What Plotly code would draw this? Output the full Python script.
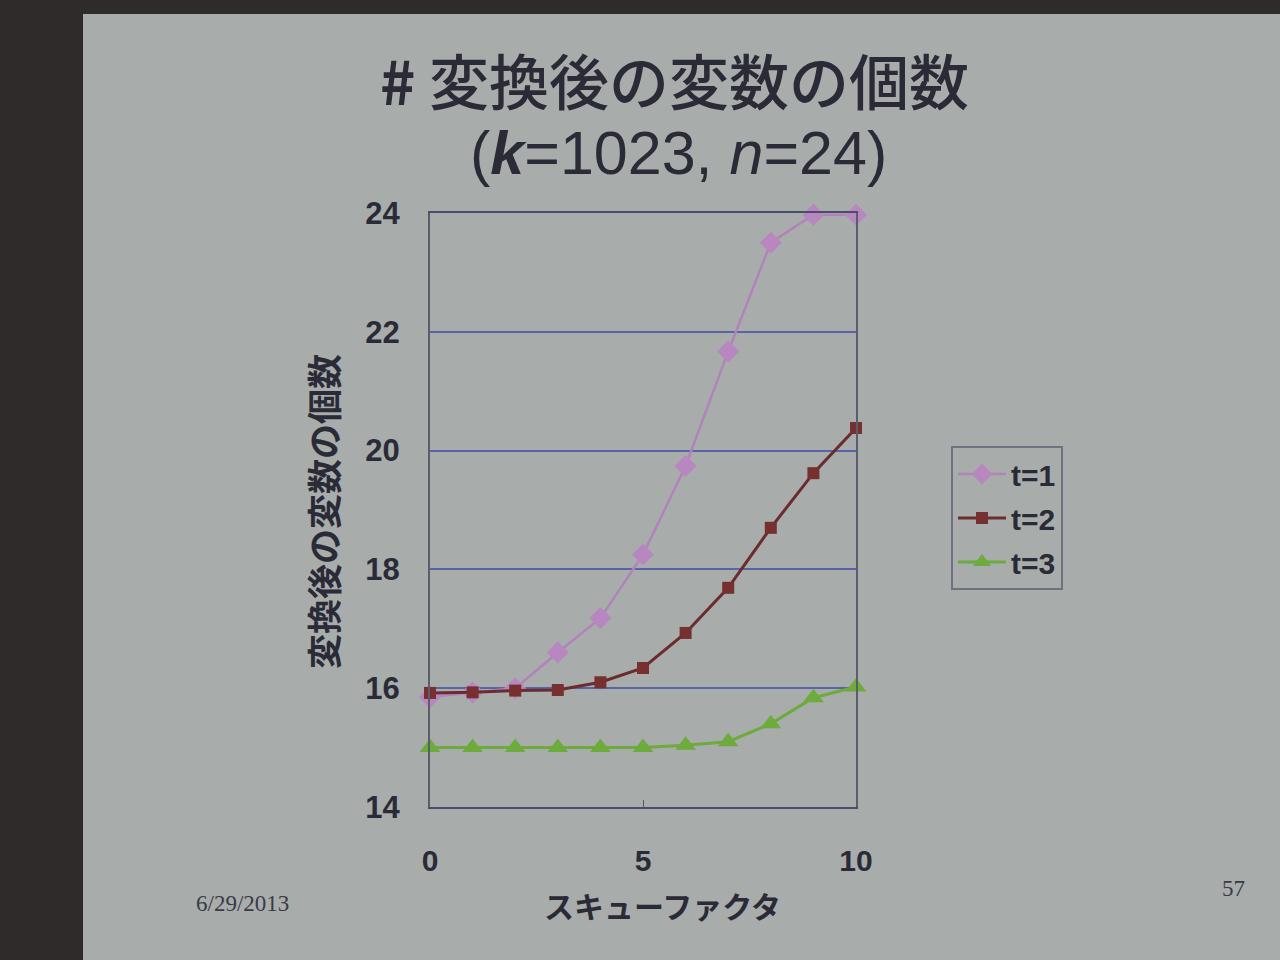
import plotly.graph_objects as go

skew = [0, 1, 2, 3, 4, 5, 6, 7, 8, 9, 10]
t1 = [15.85, 15.93, 16.0, 16.6, 17.18, 18.25, 19.74, 21.67, 23.5, 23.97, 23.97]
t2 = [15.92, 15.93, 15.96, 15.97, 16.1, 16.34, 16.93, 17.69, 18.7, 19.62, 20.38]
t3 = [15.0, 15.0, 15.0, 15.0, 15.0, 15.0, 15.04, 15.1, 15.4, 15.84, 16.02]
series_names = ["t=1", "t=2", "t=3"]
y_ticks = [14, 16, 18, 20, 22, 24]
x_ticks = [0, 5, 10]

SLIDE = "#a8adab"
DARK = "#2f2b2a"
TXT = "#2b2b38"
NUMFONT = "Liberation Sans, Arial, sans-serif"
JPFONT = "Noto Sans CJK JP, sans-serif"

L, R, T, B = 430, 424, 213, 153
plot_w, plot_h = 1280 - L - R, 960 - T - B


def px_to_paper(x, y):
    return (x - L) / plot_w, 1 - (y - T) / plot_h


fig = go.Figure()
fig.add_trace(go.Scatter(x=skew, y=t1, name=series_names[0], mode="lines+markers",
                         legendgroup="a",
                         line=dict(color="#b283bb", width=2.5),
                         marker=dict(symbol="diamond", size=17, color="#b887c0"),
                         cliponaxis=False))
fig.add_trace(go.Scatter(x=skew, y=t2, name=series_names[1], mode="lines+markers",
                         legendgroup="b",
                         line=dict(color="#6a2c2e", width=3),
                         marker=dict(symbol="square", size=12, color="#75302f"),
                         cliponaxis=False))
fig.add_trace(go.Scatter(x=skew, y=t3, name=series_names[2], mode="lines+markers",
                         legendgroup="c",
                         line=dict(color="#6cab3c", width=3),
                         marker=dict(symbol="triangle-up", size=18, color="#6cab3c"),
                         cliponaxis=False))

sx0, _ = px_to_paper(83, 0)
_, sy1 = px_to_paper(0, 14)
_, sy0 = px_to_paper(0, 960)
sx1, _ = px_to_paper(1280, 0)
lx, ly = px_to_paper(951, 446)

fig.update_layout(
    width=1280, height=960,
    margin=dict(l=L, r=R, t=T, b=B),
    paper_bgcolor=DARK,
    plot_bgcolor=SLIDE,
    showlegend=True,
    legend=dict(x=lx, y=ly, xanchor="left", yanchor="top",
                font=dict(family=NUMFONT, size=30, color=TXT, weight="bold"),
                bgcolor=SLIDE, bordercolor="#6e7280", borderwidth=2,
                itemwidth=48, tracegroupgap=2),
    shapes=[dict(type="rect", xref="paper", yref="paper",
                 x0=sx0, x1=sx1 + 0.1, y0=sy0 - 0.1, y1=sy1,
                 fillcolor=SLIDE, line=dict(width=0), layer="below")],
)

fig.update_xaxes(range=[0, 10], tickvals=x_ticks, ticks="inside", ticklen=7,
                 tickcolor="#555a66", showgrid=False, zeroline=False,
                 showline=True, linecolor="#4a4e6a", linewidth=2, mirror=True,
                 tickfont=dict(family=NUMFONT, size=30, color=TXT, weight="bold"),
                 ticklabelstandoff=26)
fig.update_yaxes(range=[14, 24], tickvals=y_ticks, ticks="", showgrid=True,
                 gridcolor="#5a63a8", gridwidth=1.5, zeroline=False,
                 showline=True, linecolor="#5a5e6a", linewidth=2, mirror=True,
                 tickfont=dict(family=NUMFONT, size=31, color=TXT, weight="bold"),
                 ticklabelstandoff=22)

annots = []


def add_text(text, px, py, size, family, color=TXT, angle=0, weight="normal"):
    ax, ay = px_to_paper(px, py)
    annots.append(dict(text=text, x=ax, y=ay, xref="paper", yref="paper",
                       xanchor="center", yanchor="middle", showarrow=False,
                       textangle=angle,
                       font=dict(family=family, size=size, color=color, weight=weight)))


add_text("<b>#</b> 変換後の変数の個数", 674, 78, 60, JPFONT, weight=500)
add_text("(<b><i>k</i></b>=1023, <i>n</i>=24)", 678, 153, 61, NUMFONT)
add_text("スキューファクタ", 662, 905, 30, JPFONT, weight="bold")
add_text("変換後の変数の個数", 322, 512, 35, JPFONT, angle=-90, weight="bold")
add_text("6/29/2013", 242, 903, 23, "Liberation Serif, Times New Roman, serif", color="#3a3a48")
add_text("57", 1233, 888, 23, "Liberation Serif, Times New Roman, serif", color="#3a3a48")
fig.update_layout(annotations=annots)

fig.write_html("out.html", config={"displayModeBar": False},
               post_script="document.body.style.margin='0';")
